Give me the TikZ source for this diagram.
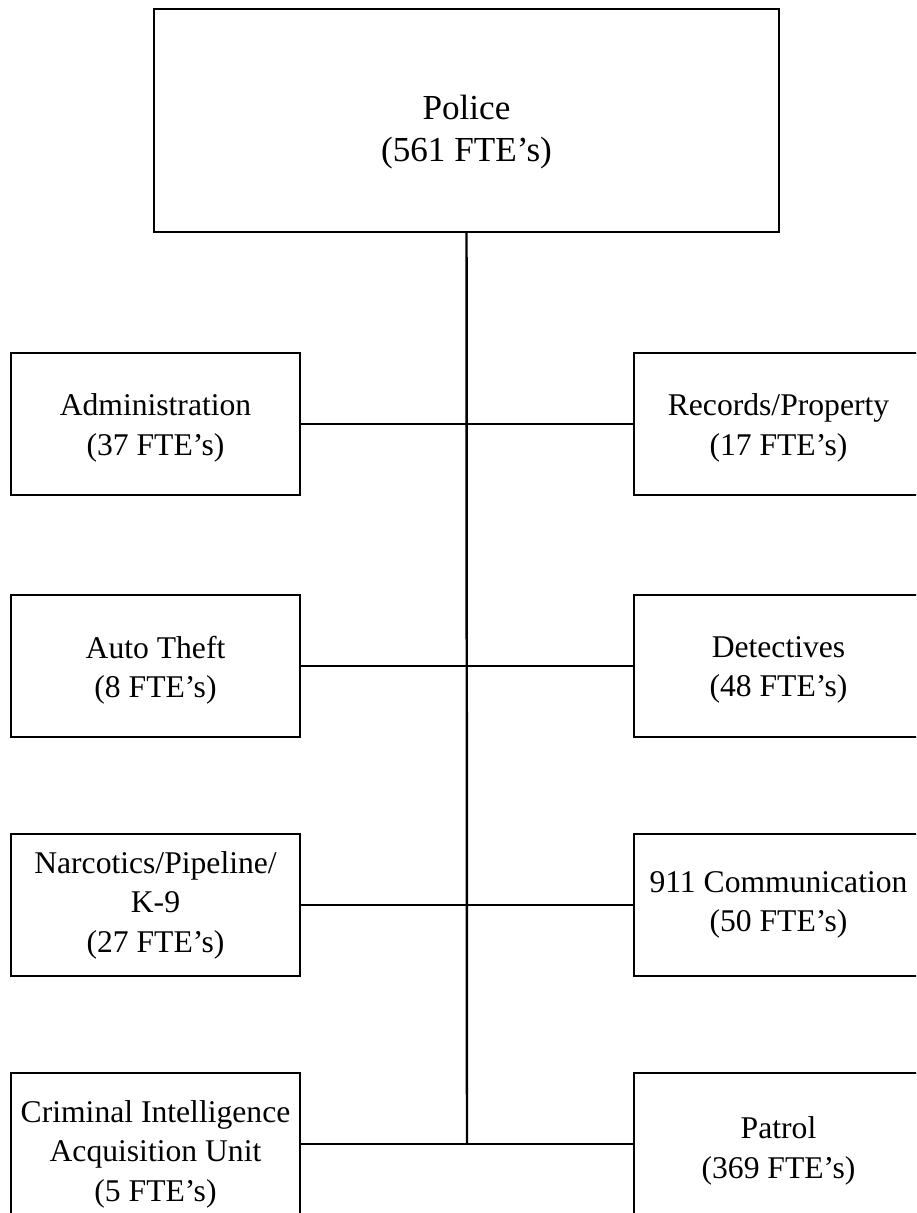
\documentclass[tikz,border=0pt]{standalone}
\usepackage{fontspec}
\setmainfont{Liberation Serif}
\begin{document}
\begin{tikzpicture}[x=0.02cm, y=-0.02cm,
  unitbox/.style={draw, line width=1.4pt, minimum width=5.78cm, minimum height=2.84cm,
    inner sep=0pt},
  headbox/.style={draw, line width=1.4pt, minimum width=12.5cm, minimum height=4.46cm,
    inner sep=0pt},
  unittext/.style={align=center, inner sep=0pt, font=\fontsize{18}{22.5}\selectfont},
  headtext/.style={align=center, inner sep=0pt, font=\fontsize{20}{24}\selectfont},
  link/.style={line width=1.4pt}]
\useasboundingbox (0,0) rectangle (916,1213);
\clip (0,0) rectangle (916,1213);

% department head
\node[headbox] (police) at (466.5,120.5) {};
\node[headtext] (policetxt) at (466.5,132) {Police\\(561 FTE’s)};

% divisions, left column
\node[unitbox] (adm) at (155.5,424) {};
\node[unitbox] (auto) at (155.5,666) {};
\node[unitbox] (narc) at (155.5,905) {};
\node[unitbox] (ciau) at (155.5,1144) {};
\node[unittext] (admtxt) at (155.5,428) {Administration\\(37 FTE’s)};
\node[unittext] (autotxt) at (155.5,670) {Auto Theft\\(8 FTE’s)};
\node[unittext] (narctxt) at (155.5,905) {Narcotics/Pipeline/\\K-9\\(27 FTE’s)};
\node[unittext] (ciautxt) at (155.5,1154) {Criminal Intelligence\\Acquisition Unit\\(5 FTE’s)};

% divisions, right column
\node[unitbox] (rec) at (778.5,424) {};
\node[unitbox] (det) at (778.5,666) {};
\node[unitbox] (comm) at (778.5,905) {};
\node[unitbox] (pat) at (778.5,1144) {};
\node[unittext] (rectxt) at (778.5,428) {Records/Property\\(17 FTE’s)};
\node[unittext] (dettxt) at (778.5,670) {Detectives\\(48 FTE’s)};
\node[unittext] (commtxt) at (778.5,905) {911 Communication\\(50 FTE’s)};
\node[unittext] (pattxt) at (778.5,1151) {Patrol\\(369 FTE’s)};

% trunk and branches
\coordinate (trunkend) at (467,1144);
\draw[link] (police.south) -- (trunkend);
\draw[link] (adm.east) -- (rec.west);
\draw[link] (auto.east) -- (det.west);
\draw[link] (narc.east) -- (comm.west);
\draw[link] (ciau.east) -- (pat.west);
\end{tikzpicture}
\end{document}
